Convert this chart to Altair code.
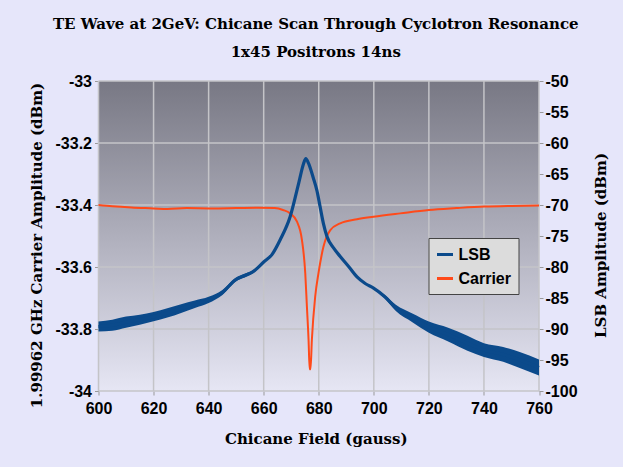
import altair as alt
import pandas as pd

# ---- data ----
lsb_x = [600, 605, 610, 615, 620, 625, 630, 635, 640, 645, 650, 653, 656, 660, 663,
         666, 669.6, 672.7, 674.5, 675.3, 676.3, 678, 679.3, 680.5, 681.7, 683,
         685.5, 687.8, 691, 693.9, 697, 699.9, 704, 708, 714, 720, 727, 734, 740,
         747, 753, 760]
lsb_db = [-89.6, -89.4, -88.9, -88.5, -88.0, -87.4, -86.7, -86.0, -85.3, -84.1,
          -82.0, -81.4, -80.8, -79.2, -78.0, -75.6, -71.9, -66.5, -63.3, -62.5,
          -63.3, -65.6, -67.6, -70.3, -73.0, -75.1, -77.0, -78.3, -80.0, -81.6,
          -82.7, -83.4, -84.8, -86.6, -88.2, -89.7, -90.9, -92.3, -93.4, -94.1,
          -95.0, -96.2]
lsb_spread = [0.8, 0.9, 0.9, 0.8, 0.75, 0.75, 0.7, 0.6, 0.5, 0.4, 0.3, 0.3, 0.25,
              0.1, 0.0, 0.0, 0.0, 0.0, 0.0, 0.0, 0.0, 0.0, 0.0, 0.0, 0.0, 0.0,
              0.0, 0.0, 0.0, 0.0, 0.0, 0.1, 0.3, 0.5, 0.7, 0.9, 1.1, 1.2, 1.1,
              1.2, 1.3, 1.3]

car_x = [600, 605, 612, 620, 625, 632, 641, 650, 658, 664, 667, 669.6, 672.1,
         673.9, 675.1, 675.7, 676.3, 676.7, 677.0, 677.5, 678.7, 679.9, 681.7,
         684.2, 687.8, 693.9, 699.9, 709.6, 720, 730, 740.2, 750, 760]
car_dbm = [-33.400, -33.404, -33.408, -33.411, -33.413, -33.410, -33.411,
           -33.410, -33.409, -33.410, -33.416, -33.427, -33.454, -33.513,
           -33.620, -33.728, -33.835, -33.930, -33.930, -33.835, -33.696,
           -33.620, -33.535, -33.481, -33.459, -33.446, -33.438, -33.427,
           -33.416, -33.410, -33.405, -33.403, -33.402]

x_ticks = [600, 620, 640, 660, 680, 700, 720, 740, 760]
car_ticks = [-34, -33.8, -33.6, -33.4, -33.2, -33]
lsb_ticks = [-100, -95, -90, -85, -80, -75, -70, -65, -60, -55, -50]

series_names = ["LSB", "Carrier"]
series_colors = ["#0b4a8b", "#ff4a1a"]

# ---- tables ----
lsb_df = pd.DataFrame({"x": lsb_x, "y": lsb_db, "series": "LSB"})
lsb_df["lo"] = [v - s for v, s in zip(lsb_db, lsb_spread)]
lsb_df["hi"] = [v + s for v, s in zip(lsb_db, lsb_spread)]
car_df = pd.DataFrame({"x": car_x, "y": car_dbm, "series": "Carrier"})
xgrid_df = pd.DataFrame({"v": x_ticks})
ygrid_df = pd.DataFrame({"v": car_ticks})

W, H = 440.5, 310
GRID = "#c4c4c8"
LBL = dict(labelFont="Liberation Sans", labelFontWeight="bold", labelFontSize=16,
           labelColor="black", labelOverlap=False)
TTL = dict(titleFont="DejaVu Serif", titleFontWeight="bold", titleFontSize=15,
           titleColor="black")

xscale = alt.Scale(domain=[600, 760], nice=False, zero=False)
cscale = alt.Scale(domain=[-34, -33], nice=False, zero=False)
lscale = alt.Scale(domain=[-100, -50], nice=False, zero=False)
color = alt.Color("series:N", scale=alt.Scale(domain=series_names, range=series_colors),
                  legend=alt.Legend(title=None, orient="none", legendX=330, legendY=157,
                                    fillColor="#dcdcdc", strokeColor="#444444",
                                    padding=7, symbolType="stroke", symbolSize=256,
                                    symbolStrokeWidth=3, labelFont="Liberation Sans",
                                    labelFontWeight="bold", labelFontSize=16,
                                    labelColor="black", rowPadding=6, labelOffset=4))

bg = alt.Chart(pd.DataFrame({"a": [0]})).mark_rect(
    color=alt.LinearGradient(gradient="linear",
                             stops=[alt.GradientStop(color="#787884", offset=0),
                                    alt.GradientStop(color="#e6e6f4", offset=1)],
                             x1=0, x2=0, y1=0, y2=1)
).encode(x=alt.value(0), x2=alt.value(W), y=alt.value(0), y2=alt.value(H))

xgrid = alt.Chart(xgrid_df).mark_rule(color=GRID, strokeWidth=1.5).encode(
    x=alt.X("v:Q", scale=xscale,
            axis=alt.Axis(values=x_ticks, grid=False, domain=False, tickColor="#999999",
                          tickSize=4, labelPadding=5, labelFlush=False,
                          title="Chicane Field (gauss)", titleX=W / 2 - 3, titleY=47,
                          titleBaseline="middle", titleAlign="center", **LBL, **TTL))
)

ygrid = alt.Chart(ygrid_df).mark_rule(color=GRID, strokeWidth=1.5).encode(
    y=alt.Y("v:Q", scale=cscale,
            axis=alt.Axis(orient="left", values=car_ticks, grid=False, domain=False,
                          tickColor="#999999", tickSize=4, labelPadding=3,
                          labelExpr="'' + datum.value",
                          title="1.99962 GHz Carrier Amplitude (dBm)", titleAngle=270,
                          titleX=-62, titleY=164, titleBaseline="middle",
                          titleAlign="center", **LBL, **TTL))
)

car_line = alt.Chart(car_df).mark_line(strokeWidth=2, interpolate="monotone").encode(
    x=alt.X("x:Q", scale=xscale),
    y=alt.Y("y:Q", scale=cscale),
    color=color,
)
car_group = alt.layer(ygrid, car_line)

lsb_axis = alt.Axis(orient="right", values=lsb_ticks, tickCount=11, grid=False,
                    domain=False, tickColor="#999999", tickSize=4, labelPadding=2,
                    labelExpr="'' + datum.value",
                    title="LSB Amplitude (dBm)", titleAngle=270, titleX=61,
                    titleY=164, titleBaseline="middle", titleAlign="center",
                    **LBL, **TTL)

lsb_band = alt.Chart(lsb_df).mark_area(color=series_colors[0], opacity=1,
                                       interpolate="monotone").encode(
    x=alt.X("x:Q", scale=xscale),
    y=alt.Y("lo:Q", scale=lscale, axis=lsb_axis),
    y2="hi:Q",
)
lsb_line = alt.Chart(lsb_df).mark_line(strokeWidth=3.2, interpolate="monotone").encode(
    x=alt.X("x:Q", scale=xscale),
    y=alt.Y("y:Q", scale=lscale, axis=lsb_axis),
    color=color,
)
lsb_group = alt.layer(lsb_band, lsb_line)

chart = alt.layer(bg, xgrid, car_group, lsb_group).resolve_scale(
    y="independent"
).properties(
    width=W, height=H,
    title=alt.TitleParams(
        text=["TE Wave at 2GeV: Chicane Scan Through Cyclotron Resonance",
              "1x45 Positrons 14ns"],
        font="DejaVu Serif", fontWeight="bold", fontSize=15, color="black",
        lineHeight=28, anchor="middle", dx=-3, dy=-9),
    autosize=alt.AutoSizeParams(type="none"),
    padding={"left": 98.5, "top": 81, "right": 84, "bottom": 76},
    background="#e6e6fa",
).configure_view(stroke=None)

chart.save("out.html", embed_options={"renderer": "svg", "actions": False})
